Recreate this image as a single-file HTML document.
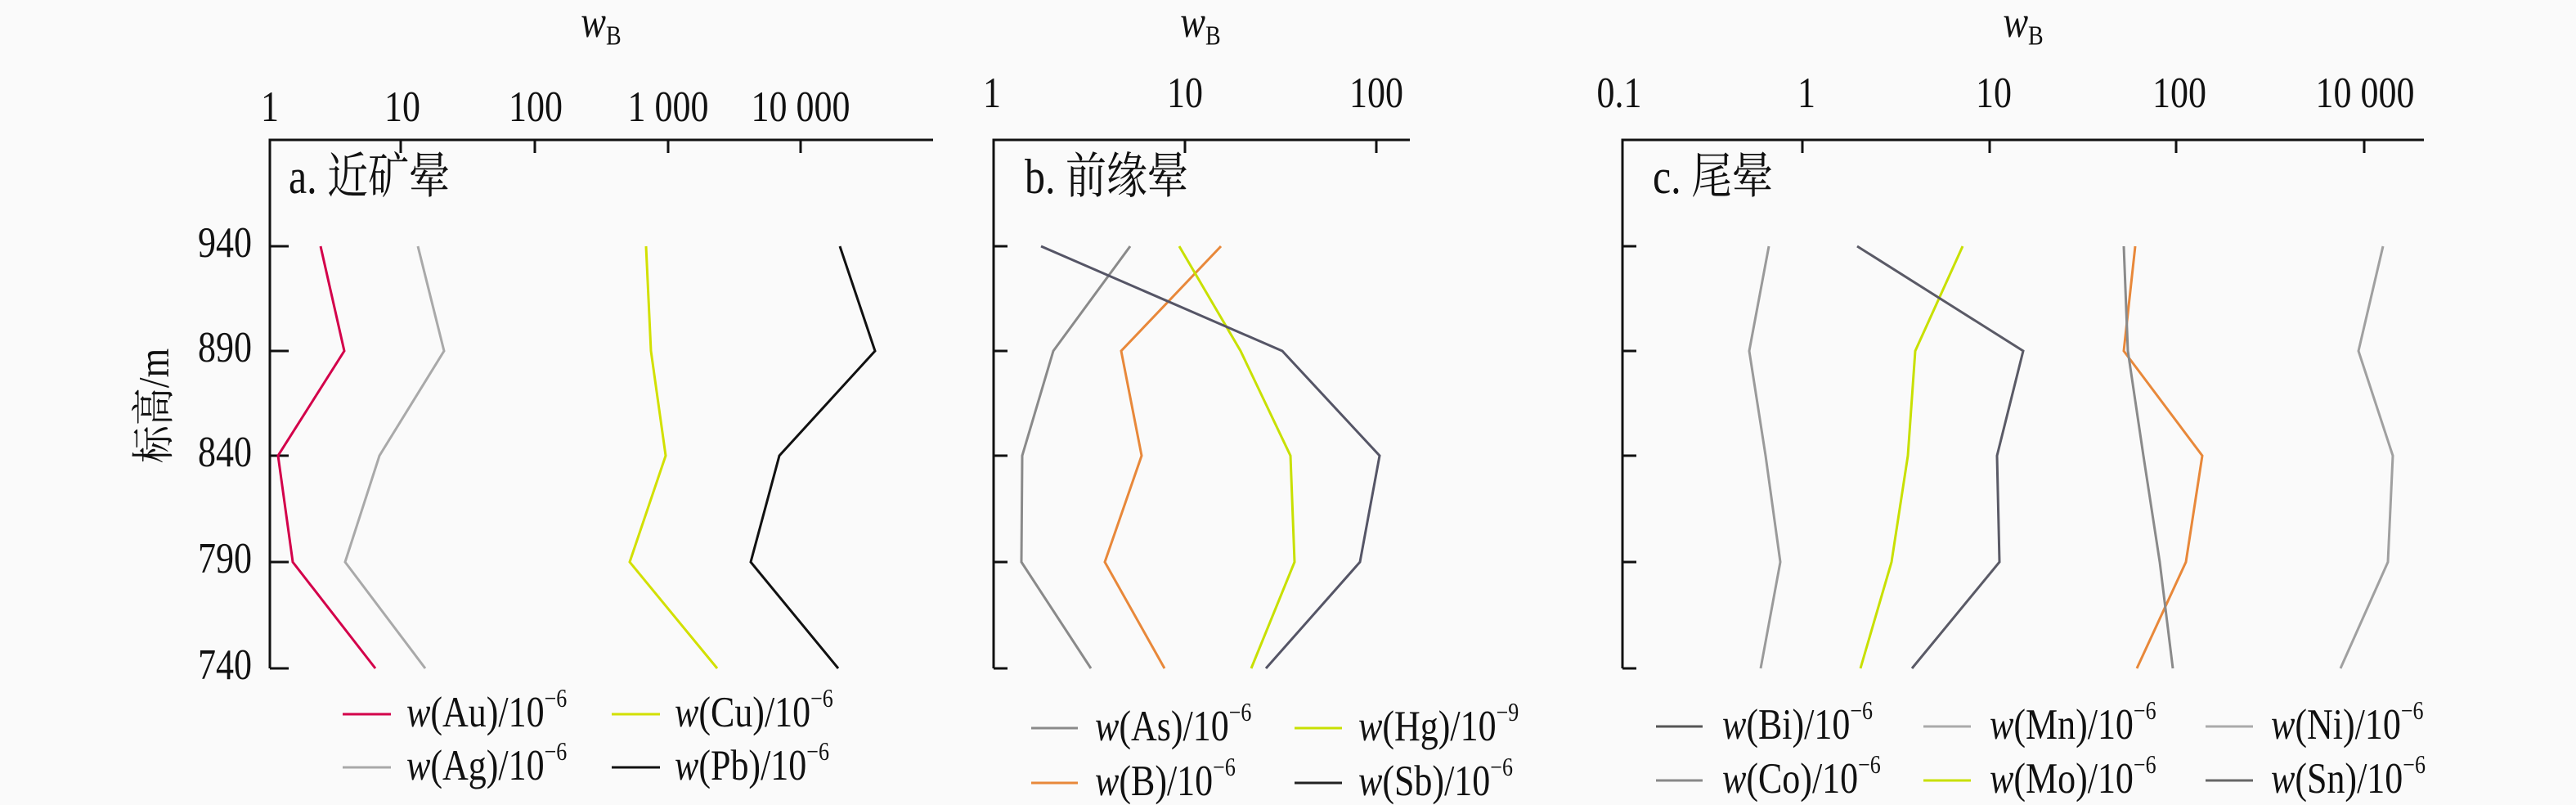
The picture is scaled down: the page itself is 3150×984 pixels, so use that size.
<!DOCTYPE html>
<html><head><meta charset="utf-8"><style>
html,body{margin:0;padding:0;background:#fafafa;}
svg{display:block;font-family:"Liberation Serif","Noto Serif CJK SC",serif;}
text{transform-box:fill-box;transform-origin:50% 100%;transform:scaleY(1.2);}
text.rot{transform:translate(190px,496px) rotate(-90deg) scaleY(1.15);transform-box:view-box;transform-origin:0 0;}
</style></head><body>
<svg width="3150" height="984" viewBox="0 0 3150 984" xmlns="http://www.w3.org/2000/svg">
<rect width="3150" height="984" fill="#fafafa"/>
<g fill="#111" font-size="44">
<!-- Panel a -->
<text x="735" y="48" font-size="46" text-anchor="middle"><tspan font-style="italic">w</tspan><tspan font-size="28" dy="8">B</tspan></text>
<g text-anchor="middle">
<text x="330" y="150">1</text><text x="492" y="150">10</text><text x="655" y="150">100</text><text x="817" y="150">1 000</text><text x="979" y="150">10 000</text>
</g>
<g stroke="#111" stroke-width="3" fill="none">
<path d="M330 817 V171 H1141"/>
<path d="M490 171v16M654 171v16M817 171v16M979 171v16"/>
<path d="M330 301h23M330 429h23M330 557h23M330 687h23M330 817h23"/>
</g>
<g text-anchor="end">
<text x="308" y="316">940</text><text x="308" y="444">890</text><text x="308" y="572">840</text><text x="308" y="702">790</text><text x="308" y="832">740</text>
</g>
<text class="rot" x="0" y="14" text-anchor="middle" font-size="46">标高/m</text>
<text x="353" y="238" font-size="50">a. 近矿晕</text>
<g fill="none" stroke-width="3">
<polyline stroke="#d3004a" points="392,301 421,429 340,557 358,687 459,817"/>
<polyline stroke="#a9a9a9" points="511,301 543,429 464,557 422,687 520,817"/>
<polyline stroke="#d2e000" points="790,301 796,429 814,557 770,687 877,817"/>
<polyline stroke="#111" points="1027,301 1070,429 953,557 918,687 1025,817"/>
</g>
<g stroke-width="3">
<line x1="419" y1="873" x2="478" y2="873" stroke="#d3004a"/>
<line x1="748" y1="873" x2="807" y2="873" stroke="#d2e000"/>
<line x1="419" y1="938" x2="478" y2="938" stroke="#a9a9a9"/>
<line x1="748" y1="938" x2="807" y2="938" stroke="#111"/>
</g>
<text x="497" y="890"><tspan font-style="italic">w</tspan>(Au)/10<tspan font-size="26" dy="-20">−6</tspan></text>
<text x="825" y="890"><tspan font-style="italic">w</tspan>(Cu)/10<tspan font-size="26" dy="-20">−6</tspan></text>
<text x="497" y="955"><tspan font-style="italic">w</tspan>(Ag)/10<tspan font-size="26" dy="-20">−6</tspan></text>
<text x="825" y="955"><tspan font-style="italic">w</tspan>(Pb)/10<tspan font-size="26" dy="-20">−6</tspan></text>

<!-- Panel b -->
<text x="1468" y="48" font-size="46" text-anchor="middle"><tspan font-style="italic">w</tspan><tspan font-size="28" dy="8">B</tspan></text>
<g text-anchor="middle">
<text x="1213" y="133">1</text><text x="1449" y="133">10</text><text x="1683" y="133">100</text>
</g>
<g stroke="#111" stroke-width="3" fill="none">
<path d="M1215 817 V171 H1724"/>
<path d="M1449 171v16M1683 171v16"/>
<path d="M1215 301h17M1215 429h17M1215 557h17M1215 687h17M1215 817h17"/>
</g>
<text x="1253" y="238" font-size="50">b. 前缘晕</text>
<g fill="none" stroke-width="3">
<polyline stroke="#8a8a8a" points="1382,301 1288,429 1250,557 1249,687 1334,817"/>
<polyline stroke="#e8883a" points="1493,301 1371,429 1396,557 1351,687 1424,817"/>
<polyline stroke="#c8e000" points="1442,301 1517,429 1578,557 1583,687 1530,817"/>
<polyline stroke="#555566" points="1273,301 1568,429 1687,557 1663,687 1548,817"/>
</g>
<g stroke-width="3">
<line x1="1261" y1="890" x2="1318" y2="890" stroke="#8a8a8a"/>
<line x1="1583" y1="890" x2="1641" y2="890" stroke="#c8e000"/>
<line x1="1261" y1="957" x2="1318" y2="957" stroke="#e8883a"/>
<line x1="1583" y1="957" x2="1641" y2="957" stroke="#222"/>
</g>
<text x="1339" y="907"><tspan font-style="italic">w</tspan>(As)/10<tspan font-size="26" dy="-20">−6</tspan></text>
<text x="1661" y="907"><tspan font-style="italic">w</tspan>(Hg)/10<tspan font-size="26" dy="-20">−9</tspan></text>
<text x="1339" y="974"><tspan font-style="italic">w</tspan>(B)/10<tspan font-size="26" dy="-20">−6</tspan></text>
<text x="1661" y="974"><tspan font-style="italic">w</tspan>(Sb)/10<tspan font-size="26" dy="-20">−6</tspan></text>

<!-- Panel c -->
<text x="2474" y="48" font-size="46" text-anchor="middle"><tspan font-style="italic">w</tspan><tspan font-size="28" dy="8">B</tspan></text>
<g text-anchor="middle">
<text x="1980" y="133">0.1</text><text x="2209" y="133">1</text><text x="2438" y="133">10</text><text x="2665" y="133">100</text><text x="2892" y="133">10 000</text>
</g>
<g stroke="#111" stroke-width="3" fill="none">
<path d="M1984 817 V171 H2964"/>
<path d="M2204 171v16M2433 171v16M2661 171v16M2891 171v16"/>
<path d="M1984 301h17M1984 429h17M1984 557h17M1984 687h17M1984 817h17"/>
</g>
<text x="2021" y="238" font-size="50">c. 尾晕</text>
<g fill="none" stroke-width="3">
<polyline stroke="#9a9a9a" points="2163,301 2139,429 2159,557 2177,687 2153,817"/>
<polyline stroke="#c8e000" points="2400,301 2342,429 2333,557 2313,687 2275,817"/>
<polyline stroke="#5a5a66" points="2271,301 2474,429 2442,557 2445,687 2338,817"/>
<polyline stroke="#e8883a" points="2611,301 2597,429 2693,557 2673,687 2613,817"/>
<polyline stroke="#8a8a8a" points="2597,301 2602,429 2621,557 2641,687 2657,817"/>
<polyline stroke="#a0a0a0" points="2914,301 2884,429 2926,557 2920,687 2862,817"/>
</g>
<g stroke-width="3">
<line x1="2025" y1="888" x2="2082" y2="888" stroke="#555"/>
<line x1="2352" y1="888" x2="2410" y2="888" stroke="#aaa"/>
<line x1="2697" y1="888" x2="2755" y2="888" stroke="#aaa"/>
<line x1="2025" y1="954" x2="2082" y2="954" stroke="#888"/>
<line x1="2352" y1="954" x2="2410" y2="954" stroke="#c8e000"/>
<line x1="2697" y1="954" x2="2755" y2="954" stroke="#666"/>
</g>
<text x="2106" y="905"><tspan font-style="italic">w</tspan>(Bi)/10<tspan font-size="26" dy="-20">−6</tspan></text>
<text x="2433" y="905"><tspan font-style="italic">w</tspan>(Mn)/10<tspan font-size="26" dy="-20">−6</tspan></text>
<text x="2777" y="905"><tspan font-style="italic">w</tspan>(Ni)/10<tspan font-size="26" dy="-20">−6</tspan></text>
<text x="2106" y="971"><tspan font-style="italic">w</tspan>(Co)/10<tspan font-size="26" dy="-20">−6</tspan></text>
<text x="2433" y="971"><tspan font-style="italic">w</tspan>(Mo)/10<tspan font-size="26" dy="-20">−6</tspan></text>
<text x="2777" y="971"><tspan font-style="italic">w</tspan>(Sn)/10<tspan font-size="26" dy="-20">−6</tspan></text>
</g>
</svg>
</body></html>
